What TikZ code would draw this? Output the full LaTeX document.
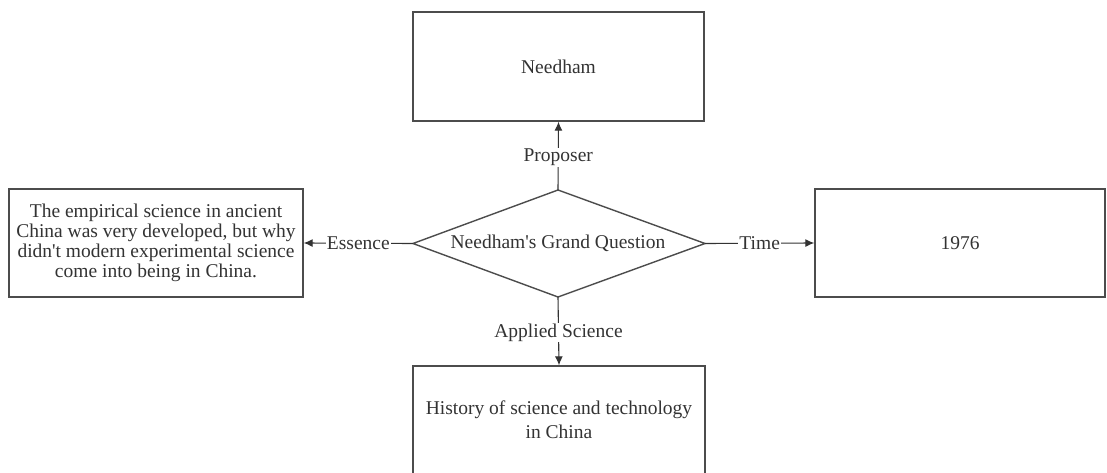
\documentclass[tikz,border=0pt]{standalone}
\usepackage{fontspec}
\setmainfont{Liberation Serif}
\usetikzlibrary{shapes.geometric,arrows.meta}
\begin{document}
\begin{tikzpicture}[x=1pt,y=-1pt,
  box/.style={draw=black!70,line width=1.4pt,fill=white,inner sep=0pt,text=black!80,font=\fontsize{19.5}{20}\selectfont,align=center},
  conn/.style={draw=black!80,line width=1.1pt},
  arr/.style={conn,-{Latex[length=9pt,width=8pt]}},
  lab/.style={fill=white,inner sep=1pt,text=black!80,font=\fontsize{19.5}{20}\selectfont}]
\useasboundingbox (0,0) rectangle (1107,473);
\clip (0,0) rectangle (1107,473);
\fill[white] (0,0) rectangle (1107,473);
% boxes
\node[box,minimum width=291pt,minimum height=109pt] (top) at (558.5,66.5) {Needham};
\node[box,minimum width=294pt,minimum height=108pt] (left) at (156,243) {The empirical science in ancient\\China was very developed, but why\\didn\textquotesingle t modern experimental science\\come into being in China.};
\node[box,minimum width=290pt,minimum height=108pt] (right) at (960,243) {1976};
\node[box,minimum width=292pt,minimum height=112pt] (bot) at (559,422) {};
\node[text=black!80,font=\fontsize{19.5}{24}\selectfont,align=center] (bottxt) at (559,420) {History of science and technology\\in China};
% diamond
\coordinate (dT) at (558,190);
\coordinate (dB) at (558,297);
\coordinate (dL) at (413,243.5);
\coordinate (dR) at (705,243.5);
\draw[black!70,line width=1.4pt,fill=white] (dT) -- (dR) -- (dB) -- (dL) -- cycle;
\node[text=black!80,font=\fontsize{19.5}{20}\selectfont] (dq) at (558,243.5) {Needham\textquotesingle s Grand Question};
% connectors
\draw[arr] (dT) -- (top.south) node[lab,pos=0.48] (lp) {Proposer};
\draw[arr] (dB) -- (bot.north) node[lab,pos=0.52] (la) {Applied Science};
\draw[arr] (dL) -- (left.east) node[lab,pos=0.5] (le) {Essence};
\draw[arr] (dR) -- (right.west) node[lab,pos=0.5] (lt) {Time};
\end{tikzpicture}
\end{document}
